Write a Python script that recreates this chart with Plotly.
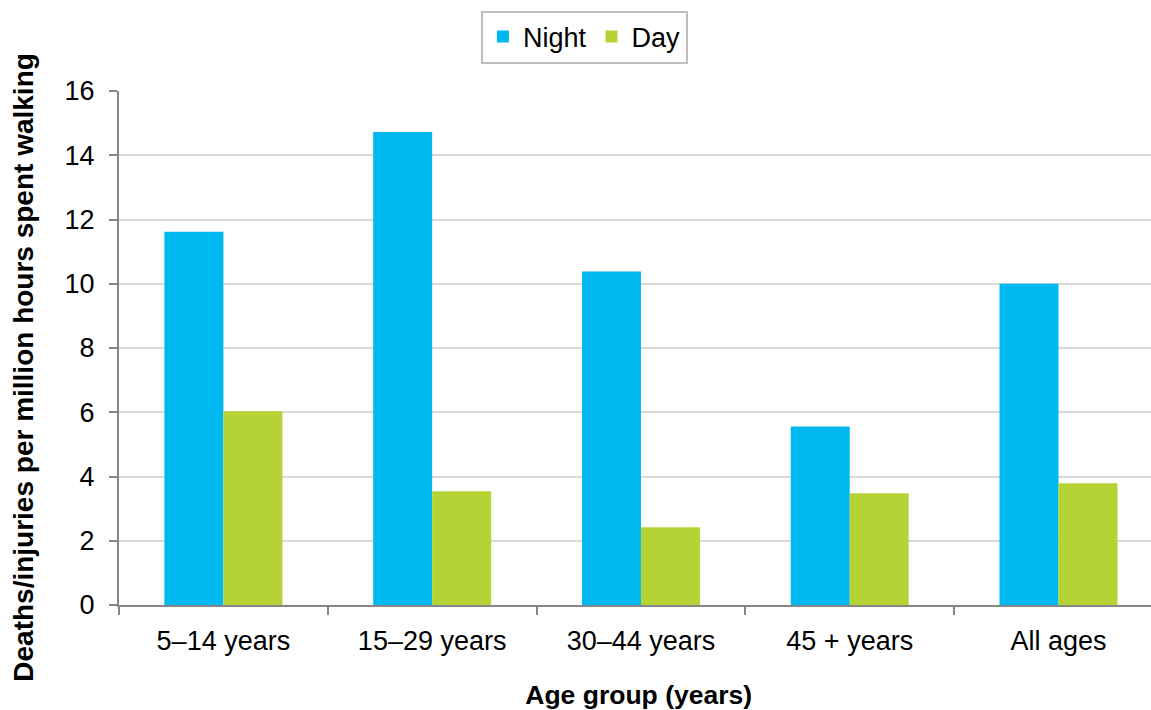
import plotly.graph_objects as go

categories = ["5–14 years", "15–29 years", "30–44 years", "45 + years", "All ages"]
night = [11.62, 14.72, 10.38, 5.56, 10.0]
day = [6.03, 3.54, 2.42, 3.48, 3.79]
y_ticks = [0, 2, 4, 6, 8, 10, 12, 14, 16]

FONT = "Liberation Sans, Arial, sans-serif"

fig = go.Figure()
fig.add_trace(go.Bar(name="Night", x=categories, y=night, marker=dict(color="#00B8F0", line=dict(width=0))))
fig.add_trace(go.Bar(name="Day", x=categories, y=day, marker=dict(color="#B5D334", line=dict(width=0))))

fig.update_layout(
    width=1151, height=710,
    margin=dict(l=119, r=0, t=91, b=105, autoexpand=False),
    paper_bgcolor="white", plot_bgcolor="white",
    barmode="group", bargap=0.435, bargroupgap=0,
    font=dict(family=FONT, size=27, color="#000000"),
    legend=dict(
        orientation="h", x=0.451, xanchor="center", y=1.105, yanchor="middle",
        bordercolor="#BFBFBF", borderwidth=2, bgcolor="white",
        font=dict(size=27, family=FONT), itemwidth=30,
    ),
    xaxis=dict(
        type="category", range=[-0.5, 4.443], tickson="boundaries", ticks="outside", ticklen=8,
        tickcolor="#868686", tickwidth=2, automargin=False,
        showline=True, linecolor="#868686", linewidth=2,
        showgrid=False, ticklabelstandoff=11,
        title=dict(text="&nbsp;<b>Age group (years)</b>", font=dict(size=26.5), standoff=33),
        tickfont=dict(size=27),
    ),
    yaxis=dict(
        range=[0, 16], tickvals=y_ticks, ticks="outside", ticklen=8,
        tickcolor="#868686", tickwidth=2, automargin=False,
        showline=True, linecolor="#868686", linewidth=2,
        showgrid=True, gridcolor="#D9D9D9", gridwidth=2,
        zeroline=False, ticklabelstandoff=9,
        title=dict(text="<b>Deaths/injuries per million hours spent walking&nbsp;&nbsp;&nbsp;&nbsp;&nbsp;</b>",
                   font=dict(size=28), standoff=23),
        tickfont=dict(size=27),
    ),
)

fig.write_html("out.html", config={"displayModeBar": False},
               post_script="document.body.style.margin='0';")
